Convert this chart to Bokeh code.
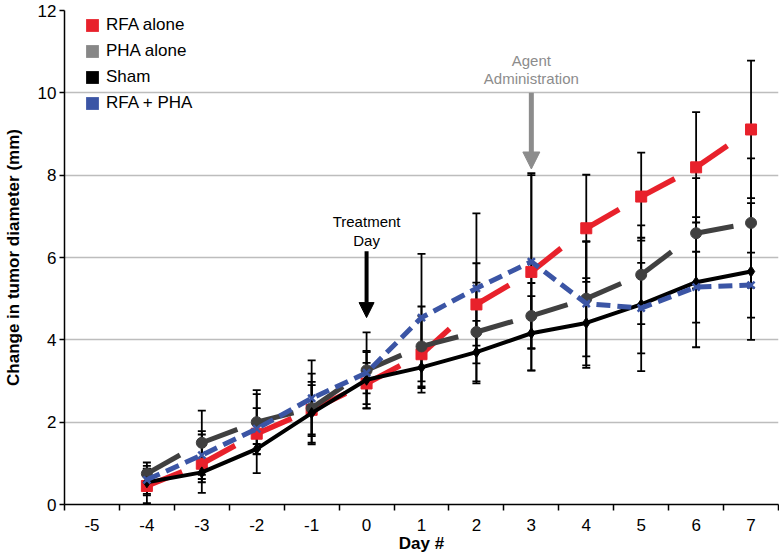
from bokeh.plotting import figure
from bokeh.models import (Range1d, FixedTicker, Legend, LegendItem, Whisker, TeeHead,
                          ColumnDataSource, Arrow, NormalHead, Label)
from bokeh.embed import file_html
from bokeh.resources import INLINE

# ---------------- data ----------------
days = [-4, -3, -2, -1, 0, 1, 2, 3, 4, 5, 6, 7]
x_ticks = [-5, -4, -3, -2, -1, 0, 1, 2, 3, 4, 5, 6, 7]
x_tick_labels = ["-5", "-4", "-3", "-2", "-1", "0", "1", "2", "3", "4", "5", "6", "7"]
y_ticks = [0, 2, 4, 6, 8, 10, 12]

rfa_alone = [0.45, 0.99, 1.72, 2.30, 2.94, 3.65, 4.86, 5.65, 6.71, 7.48, 8.19, 9.11]
rfa_alone_sd = [0.42, 0.71, 0.96, 0.60, 0.50, 0.93, 1.00, 2.40, 1.30, 1.07, 1.34, 1.67]

pha_alone = [0.75, 1.50, 2.00, 2.34, 3.26, 3.84, 4.19, 4.58, 5.00, 5.58, 6.59, 6.84]
pha_alone_sd = [0.27, 0.78, 0.78, 0.84, 0.92, 0.97, 1.20, 0.80, 1.40, 1.20, 1.34, 1.57]

sham = [0.54, 0.78, 1.35, 2.22, 3.03, 3.33, 3.70, 4.16, 4.41, 4.86, 5.40, 5.66]
sham_sd = [0.32, 0.24, 0.12, 0.76, 0.70, 0.50, 0.76, 0.90, 1.09, 1.62, 1.58, 1.66]

rfa_pha = [0.60, 1.20, 1.84, 2.58, 3.20, 4.54, 5.25, 5.90, 4.88, 4.77, 5.28, 5.33]
rfa_pha_sd = [0.34, 0.58, 0.50, 0.92, 0.50, 1.55, 1.82, 2.10, 1.50, 1.10, 0.86, 0.79]

series_names = ["RFA alone", "PHA alone", "Sham", "RFA + PHA"]

RED = "#e8212b"
GRAY_LINE = "#404040"
GRAY_LEG = "#878787"
BLACK = "#000000"
BLUE = "#3b55a5"
FONT = "Liberation Sans"

# ---------------- figure ----------------
p = figure(width=779, height=560, output_backend="svg", toolbar_location=None,
           x_range=Range1d(-5.5, 7.5), y_range=Range1d(0, 12),
           min_border_left=60, min_border_right=1, min_border_top=10, min_border_bottom=56)
p.outline_line_color = None
p.background_fill_color = "white"

# grid
p.xgrid.visible = False
p.ygrid.ticker = FixedTicker(ticks=y_ticks)
p.ygrid.grid_line_color = "#bdbdbd"
p.ygrid.grid_line_width = 1.5

# x axis: labels at day centres, ticks at the boundaries
xa = p.xaxis[0]
xa.ticker = FixedTicker(ticks=x_ticks, minor_ticks=[t + 0.5 for t in [-6] + x_ticks])
xa.major_label_overrides = {t: l for t, l in zip(x_ticks, x_tick_labels)}
xa.major_tick_out = 0
xa.major_tick_in = 0
xa.minor_tick_out = 6
xa.minor_tick_in = 0
xa.minor_tick_line_color = "black"
xa.minor_tick_line_width = 1.5
xa.axis_line_color = "black"
xa.axis_line_width = 1.5
xa.major_label_text_font = FONT
xa.major_label_text_font_size = "17px"
xa.major_label_text_color = "black"
xa.major_label_standoff = 8
xa.axis_label = "Day #"
xa.axis_label_text_font = FONT
xa.axis_label_text_font_size = "17px"
xa.axis_label_text_font_style = "bold"
xa.axis_label_text_color = "black"
xa.axis_label_standoff = 0

ya = p.yaxis[0]
ya.ticker = FixedTicker(ticks=y_ticks)
ya.minor_tick_line_color = None
ya.major_tick_out = 5
ya.major_tick_in = 0
ya.major_tick_line_color = "black"
ya.major_tick_line_width = 1.5
ya.axis_line_color = "black"
ya.axis_line_width = 1.5
ya.major_label_text_font = FONT
ya.major_label_text_font_size = "17px"
ya.major_label_text_color = "black"
ya.major_label_standoff = 3
ya.axis_label = "Change in tumor diameter (mm)"
ya.axis_label_text_font = FONT
ya.axis_label_text_font_size = "17px"
ya.axis_label_text_font_style = "bold"
ya.axis_label_text_color = "black"
ya.axis_label_standoff = 12

# ---------------- error bars ----------------
for vals, sds in [(rfa_alone, rfa_alone_sd), (pha_alone, pha_alone_sd),
                  (sham, sham_sd), (rfa_pha, rfa_pha_sd)]:
    src = ColumnDataSource(dict(x=days,
                                upper=[v + s for v, s in zip(vals, sds)],
                                lower=[v - s for v, s in zip(vals, sds)]))
    w = Whisker(base="x", upper="upper", lower="lower", source=src,
                line_color="black", line_width=1.8,
                upper_head=TeeHead(size=8, line_color="black", line_width=1.8),
                lower_head=TeeHead(size=8, line_color="black", line_width=1.8))
    p.add_layout(w)

# ---------------- series ----------------
# RFA alone: long dashes restarting at each marker
p.segment(x0=days[:-1], y0=rfa_alone[:-1], x1=days[1:], y1=rfa_alone[1:],
          line_color=RED, line_width=5.5, line_dash="38 60")
p.scatter(days, rfa_alone, marker="square", size=11, fill_color=RED, line_color=RED)

# PHA alone
p.segment(x0=days[:-1], y0=pha_alone[:-1], x1=days[1:], y1=pha_alone[1:],
          line_color=GRAY_LINE, line_width=5, line_dash="38 60")
p.scatter(days, pha_alone, marker="circle", size=11, fill_color=GRAY_LINE, line_color=GRAY_LINE)

# Sham
p.line(days, sham, line_color=BLACK, line_width=4)
p.scatter(days, sham, marker="diamond", size=11, fill_color=BLACK, line_color=BLACK)

# RFA + PHA
p.line(days, rfa_pha, line_color=BLUE, line_width=5, line_dash="14 7")
p.scatter(days, rfa_pha, marker="x", size=10, line_color=BLUE, line_width=2.5)

# ---------------- legend (square swatches) ----------------
nan = float("nan")
swatches = []
for name, col in zip(series_names, [RED, GRAY_LEG, BLACK, BLUE]):
    r = p.quad(left=[nan], right=[nan], top=[nan], bottom=[nan],
               fill_color=col, line_color=None)
    swatches.append(LegendItem(label=name, renderers=[r]))
legend = Legend(items=swatches, location=(20, 391), margin=0, padding=0,
                spacing=6, glyph_width=16, glyph_height=16, label_height=20,
                label_standoff=6, label_text_font=FONT, label_text_font_size="17px",
                label_text_color="black", background_fill_alpha=0,
                border_line_alpha=0)
p.add_layout(legend)

# ---------------- annotations ----------------
p.add_layout(Arrow(end=NormalHead(size=15, fill_color="black", line_color="black"),
                   x_start=0, y_start=6.15, x_end=0, y_end=4.54,
                   line_color="black", line_width=4))
p.add_layout(Label(x=0, y=6.87, text="Treatment", text_align="center",
                   text_baseline="middle", text_font=FONT, text_font_size="15px",
                   text_color="black"))
p.add_layout(Label(x=0, y=6.42, text="Day", text_align="center",
                   text_baseline="middle", text_font=FONT, text_font_size="15px",
                   text_color="black"))

AGRAY = "#8c8c8c"
p.add_layout(Arrow(end=NormalHead(size=17, fill_color=AGRAY, line_color=AGRAY),
                   x_start=3, y_start=10.0, x_end=3, y_end=8.15,
                   line_color=AGRAY, line_width=5))
p.add_layout(Label(x=3, y=10.79, text="Agent", text_align="center",
                   text_baseline="middle", text_font=FONT, text_font_size="15px",
                   text_color=AGRAY))
p.add_layout(Label(x=3, y=10.36, text="Administration", text_align="center",
                   text_baseline="middle", text_font=FONT, text_font_size="15px",
                   text_color=AGRAY))

open("out.html", "w").write(file_html(p, INLINE))
